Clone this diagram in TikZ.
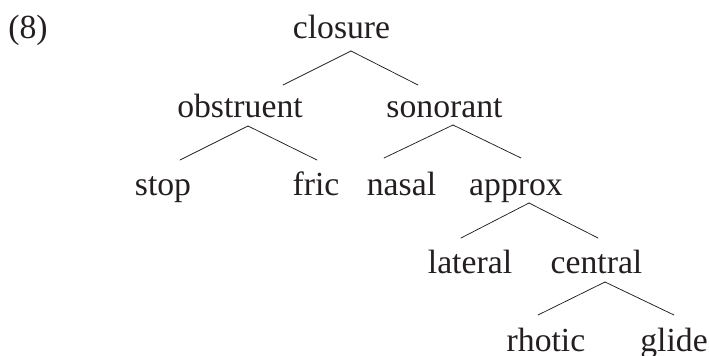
\documentclass[tikz,border=0pt]{standalone}
\usepackage{fontspec}
\setmainfont{Liberation Serif}
\usepackage{tikz}
\definecolor{ink}{HTML}{231F20}

\begin{document}
\begin{tikzpicture}[x=1pt, y=-1pt, every path/.style={line cap=round, line width=0.75pt}]

        \tikzset{feat/.style = {inner sep=0pt, anchor=base, text=ink, font=\fontsize{33.7}{40}\selectfont}}
        \tikzset{branch/.style = {draw=ink}}

        \useasboundingbox (0,0) rectangle (710,356);

        \node[feat, anchor=base west] (num) at (8,38) {(8)};
        \node[feat] (closure) at (341.5,38) {closure};
        \node[feat] (obstruent) at (240,117) {obstruent};
        \node[feat] (sonorant) at (444.5,117) {sonorant};
        \node[feat] (stop) at (163,195) {stop};
        \node[feat] (fric) at (316,195) {fric};
        \node[feat] (nasal) at (401.5,195) {nasal};
        \node[feat] (approx) at (516,195) {approx};
        \node[feat] (lateral) at (470,273) {lateral};
        \node[feat] (central) at (596.5,273) {central};
        \node[feat] (rhotic) at (546,351) {rhotic};
        \node[feat] (glide) at (674,351) {glide};

        \draw[branch] ([shift={(9.5,13)}]closure.base) -- ([shift={(43,-32)}]obstruent.base);
        \draw[branch] ([shift={(9.5,13)}]closure.base) -- ([shift={(-26.5,-32)}]sonorant.base);
        \draw[branch] ([shift={(8,9)}]obstruent.base) -- ([shift={(17,-35)}]stop.base);
        \draw[branch] ([shift={(8,9)}]obstruent.base) -- ([shift={(1,-35)}]fric.base);
        \draw[branch] ([shift={(8.5,8)}]sonorant.base) -- ([shift={(-17.5,-37)}]nasal.base);
        \draw[branch] ([shift={(8.5,8)}]sonorant.base) -- ([shift={(5,-37)}]approx.base);
        \draw[branch] ([shift={(13,8)}]approx.base) -- ([shift={(-9,-35)}]lateral.base);
        \draw[branch] ([shift={(13,8)}]approx.base) -- ([shift={(1.5,-35)}]central.base);
        \draw[branch] ([shift={(8.5,9)}]central.base) -- ([shift={(-8,-36)}]rhotic.base);
        \draw[branch] ([shift={(8.5,9)}]central.base) -- ([shift={(0,-36)}]glide.base);
\end{tikzpicture}
\end{document}
